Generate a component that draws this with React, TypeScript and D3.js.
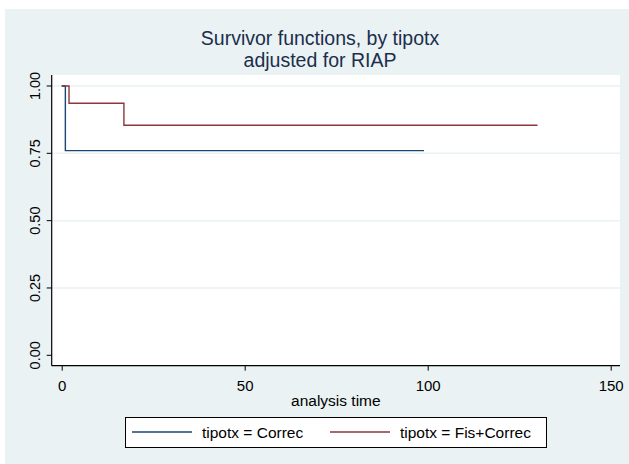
import React, { useEffect, useRef } from 'react';
import * as d3 from 'd3';

// Kaplan-Meier style step data
const correcTime = [0, 1, 99];
const correcSurv = [1, 0.76, 0.76];
const fisTime = [0, 2, 17, 130];
const fisSurv = [1, 0.936, 0.854, 0.854];

const xTicks = [0, 50, 100, 150];
const yTicks = [0, 0.25, 0.5, 0.75, 1];
const gridTicks = [0.25, 0.5, 0.75, 1];

const titleLines = ['Survivor functions, by tipotx', 'adjusted for RIAP'];
const legendLabels = ['tipotx = Correc', 'tipotx = Fis+Correc'];
const seriesColors = ['#1a476f', '#90353b'];

const App = () => {
  const chartRef = useRef<SVGSVGElement | null>(null);

  useEffect(() => {
    const width = 629;
    const height = 464;
    const bg = '#eaf2f3';
    const font = '"Liberation Sans", Arial, Helvetica, sans-serif';

    // plot region
    const left = 51.7;
    const right = 620;
    const top = 75;
    const bottom = 365.7;

    const svg = d3.select(chartRef.current);
    svg.selectAll('*').remove();
    svg.attr('width', width).attr('height', height);

    svg.append('rect').attr('width', width).attr('height', height).attr('fill', '#ffffff');
    svg.append('rect')
      .attr('x', 5).attr('y', 9)
      .attr('width', width - 5).attr('height', height - 9)
      .attr('fill', bg);

    svg.append('rect')
      .attr('x', left).attr('y', top)
      .attr('width', right - left).attr('height', bottom - top)
      .attr('fill', '#ffffff');

    const x = d3.scaleLinear().domain([0, 150]).range([61.7, 610.7]);
    const y = d3.scaleLinear().domain([0, 1]).range([355.3, 86]);

    // gridlines
    svg.append('g').selectAll('line')
      .data(gridTicks)
      .join('line')
      .attr('x1', left).attr('x2', right)
      .attr('y1', d => y(d)).attr('y2', d => y(d))
      .attr('stroke', bg)
      .attr('stroke-width', 1.5);

    // series
    const series = [
      correcTime.map((t, i) => [t, correcSurv[i]] as [number, number]),
      fisTime.map((t, i) => [t, fisSurv[i]] as [number, number]),
    ];
    const line = d3.line<[number, number]>()
      .x(d => x(d[0]))
      .y(d => y(d[1]))
      .curve(d3.curveStepAfter);

    svg.append('g').selectAll('path')
      .data(series)
      .join('path')
      .attr('d', d => line(d))
      .attr('fill', 'none')
      .attr('stroke', (d, i) => seriesColors[i])
      .attr('stroke-width', 1.4);

    // y axis
    const yAxis = svg.append('g')
      .attr('transform', `translate(${left},0)`)
      .call(d3.axisLeft(y).tickValues(yTicks).tickFormat(d3.format('.2f')).tickSize(5).tickPadding(6))
      .call(g => g.select('.domain').remove());
    yAxis.selectAll('line').attr('stroke', '#000');
    yAxis.selectAll('text')
      .attr('transform', d => `translate(${-6},${y(d as number)}) rotate(-90)`)
      .attr('x', 0).attr('y', 0).attr('dy', 0)
      .attr('dx', 0)
      .attr('text-anchor', 'middle')
      .attr('font-size', 14.5)
      .attr('font-family', font)
      .attr('fill', '#000');
    yAxis.selectAll('.tick').attr('transform', null);
    yAxis.selectAll('.tick line')
      .attr('y1', d => y(d as number)).attr('y2', d => y(d as number))
      .attr('x2', -5);
    yAxis.selectAll('.tick text')
      .attr('transform', d => `translate(${-11.7},${y(d as number)}) rotate(-90)`);

    svg.append('line')
      .attr('x1', left).attr('x2', left)
      .attr('y1', top).attr('y2', bottom)
      .attr('stroke', '#000').attr('stroke-width', 1.2);

    // x axis
    const xAxis = svg.append('g')
      .attr('transform', `translate(0,${bottom})`)
      .call(d3.axisBottom(x).tickValues(xTicks).tickFormat(d3.format('d')).tickSize(5).tickPadding(10))
      .call(g => g.select('.domain').remove());
    xAxis.selectAll('line').attr('stroke', '#000');
    xAxis.selectAll('text')
      .attr('font-size', 15)
      .attr('font-family', font)
      .attr('fill', '#000');

    svg.append('line')
      .attr('x1', left).attr('x2', right)
      .attr('y1', bottom).attr('y2', bottom)
      .attr('stroke', '#000').attr('stroke-width', 1.2);

    svg.append('text')
      .attr('x', (left + right) / 2).attr('y', 406)
      .attr('text-anchor', 'middle')
      .attr('font-size', 15.5)
      .attr('font-family', font)
      .attr('fill', '#000')
      .text('analysis time');

    // title
    svg.append('g').selectAll('text')
      .data(titleLines)
      .join('text')
      .attr('x', 320)
      .attr('y', (d, i) => 45 + i * 22)
      .attr('text-anchor', 'middle')
      .attr('font-size', 19.5)
      .attr('font-family', font)
      .attr('fill', '#1c2e4d')
      .text(d => d);

    // legend
    const legend = svg.append('g');
    legend.append('rect')
      .attr('x', 125.5).attr('y', 417.5)
      .attr('width', 421).attr('height', 30)
      .attr('fill', '#ffffff')
      .attr('stroke', '#000')
      .attr('stroke-width', 1);

    const keyX = [132, 330];
    legendLabels.forEach((label, i) => {
      legend.append('line')
        .attr('x1', keyX[i]).attr('x2', keyX[i] + 60)
        .attr('y1', 432).attr('y2', 432)
        .attr('stroke', seriesColors[i])
        .attr('stroke-width', 1.4);
      legend.append('text')
        .attr('x', keyX[i] + 70).attr('y', 438)
        .attr('font-size', 15.5)
        .attr('font-family', font)
        .attr('fill', '#000')
        .text(label);
    });
  }, []);

  return (
    <div>
      <svg ref={chartRef} style={{ position: 'absolute', left: 0, top: 0 }}></svg>
    </div>
  );
};

export default App;
